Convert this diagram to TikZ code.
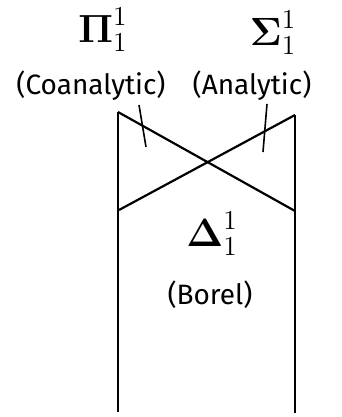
\documentclass[tikz,border=0pt]{standalone}
\usepackage{amsmath,amsfonts}
\usepackage{fontspec}
\setmainfont{Fira Sans}
\newcommand{\pcl}[1]{\scalebox{1.9}{$\boldsymbol{#1}^{1}_{1}$}}

\begin{document}
\begin{tikzpicture}[x=1pt, y=-1pt, line width=2.2pt,
		setname/.style = {font=\fontsize{28}{32}\selectfont},
		ptclass/.style = {font=\fontsize{20}{24}\selectfont}]
	\useasboundingbox (0,0) rectangle (341,417);
	% the two walls and the cross
	\coordinate (tl) at (118,112);
	\coordinate (tr) at (295,115);
	\coordinate (ml) at (119,210);
	\coordinate (mr) at (295,211);
	\coordinate (bl) at (118,412);
	\coordinate (br) at (295,413);
	\draw (tl) -- (bl);
	\draw (tr) -- (br);
	\draw (tl) -- (mr);
	\draw (tr) -- (ml);
	% labels
	\node[ptclass] (pi) at (103,30) {\pcl{\Pi}};
	\node[ptclass] (sigma) at (273,33) {\pcl{\Sigma}};
	\node[setname] (coan) at (91,86) {(Coanalytic)};
	\node[setname] (an) at (252,86) {(Analytic)};
	\node[ptclass] (delta) at (212,234) {\pcl{\Delta}};
	\node[setname] (borel) at (210,295) {(Borel)};
	% pointers into the wedges
	\coordinate (lt1) at (139,105);
	\coordinate (lt2) at (146,147);
	\coordinate (rt1) at (267,104);
	\coordinate (rt2) at (263,152);
	\draw[line width=1.6pt] (lt1) -- (lt2);
	\draw[line width=1.6pt] (rt1) -- (rt2);
\end{tikzpicture}
\end{document}
